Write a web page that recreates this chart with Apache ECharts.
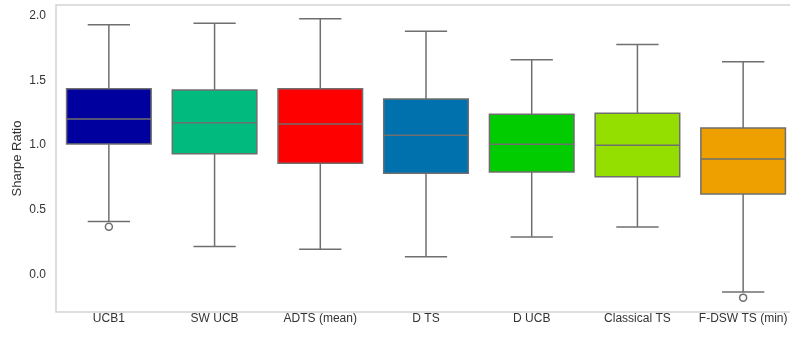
<!DOCTYPE html>
<html>
<head>
<meta charset="utf-8">
<script src="https://cdn.jsdelivr.net/npm/echarts@6/dist/echarts.min.js"></script>
<style>
  html, body { margin: 0; padding: 0; background: #fff; }
  #chart { width: 790px; height: 338px; }
</style>
</head>
<body>
<div id="chart"></div>
<script>
// Strategies on the x axis
const categories = ['UCB1', 'SW UCB', 'ADTS (mean)', 'D TS', 'D UCB', 'Classical TS', 'F-DSW TS (min)'];
// Box statistics per strategy
const whiskerLow  = [0.408, 0.215, 0.195, 0.137, 0.290, 0.367, -0.135];
const quartile1   = [1.008, 0.933, 0.859, 0.781, 0.792, 0.755, 0.622];
const medians     = [1.201, 1.172, 1.162, 1.075, 1.005, 0.998, 0.892];
const quartile3   = [1.435, 1.425, 1.435, 1.355, 1.237, 1.245, 1.131];
const whiskerHigh = [1.929, 1.940, 1.975, 1.878, 1.659, 1.775, 1.643];
// Outlying points: [strategy, value]
const outliers = [['UCB1', 0.369], ['F-DSW TS (min)', -0.179]];
// Y tick labels
const yTicks = [0.0, 0.5, 1.0, 1.5, 2.0];

const boxColors = ['#00009f', '#00bb7d', '#ff0000', '#0171ae', '#00cc00', '#95df00', '#eda000'];
const lineColor = '#6f6f6f';
const font = 'Liberation Sans, Arial, sans-serif';

const boxData = categories.map((c, i) => [i, whiskerLow[i], quartile1[i], medians[i], quartile3[i], whiskerHigh[i]]);

function renderBox(params, api) {
  const i = api.value(0);
  const band = api.size([1, 0])[0];
  const boxW = band * 0.8;
  const capW = boxW * 0.5;
  const pLow = api.coord([i, api.value(1)]);
  const pQ1 = api.coord([i, api.value(2)]);
  const pMed = api.coord([i, api.value(3)]);
  const pQ3 = api.coord([i, api.value(4)]);
  const pHigh = api.coord([i, api.value(5)]);
  const cx = pMed[0];
  const ls = { stroke: lineColor, lineWidth: 1.5, fill: null };
  return {
    type: 'group',
    children: [
      { type: 'line', shape: { x1: cx, y1: pQ3[1], x2: cx, y2: pHigh[1] }, style: ls },
      { type: 'line', shape: { x1: cx, y1: pQ1[1], x2: cx, y2: pLow[1] }, style: ls },
      { type: 'line', shape: { x1: cx - capW / 2, y1: pHigh[1], x2: cx + capW / 2, y2: pHigh[1] }, style: ls },
      { type: 'line', shape: { x1: cx - capW / 2, y1: pLow[1], x2: cx + capW / 2, y2: pLow[1] }, style: ls },
      { type: 'rect', shape: { x: cx - boxW / 2, y: pQ3[1], width: boxW, height: pQ1[1] - pQ3[1] },
        style: { fill: boxColors[i], stroke: lineColor, lineWidth: 1.5 } },
      { type: 'line', shape: { x1: cx - boxW / 2, y1: pMed[1], x2: cx + boxW / 2, y2: pMed[1] }, style: ls }
    ]
  };
}

const chart = echarts.init(document.getElementById('chart'), null, { renderer: 'canvas' });
chart.setOption({
  animation: false,
  backgroundColor: '#ffffff',
  grid: {
    left: 56, right: -6, top: 5, bottom: 26,
    outerBoundsMode: 'none', containLabel: false,
    show: true, borderColor: '#d4d4d4', borderWidth: 1.5, backgroundColor: 'transparent'
  },
  xAxis: {
    type: 'category',
    data: categories,
    axisLine: { show: false },
    axisTick: { show: false },
    axisLabel: { color: '#333', fontSize: 12, fontFamily: font, margin: 1, interval: 0 },
    splitLine: { show: false }
  },
  yAxis: {
    type: 'value',
    min: -0.29,
    max: 2.081,
    name: 'Sharpe Ratio',
    nameLocation: 'middle',
    nameGap: 32,
    nameMoveOverlap: false,
    nameTextStyle: { color: '#333', fontSize: 13, fontFamily: font },
    axisLine: { show: false },
    axisTick: { show: false },
    splitLine: { show: false },
    axisLabel: {
      color: '#333', fontSize: 12, fontFamily: font, margin: 10,
      customValues: yTicks,
      formatter: v => v.toFixed(1)
    }
  },
  series: [
    {
      type: 'custom',
      renderItem: renderBox,
      data: boxData,
      encode: { x: 0, y: [1, 2, 3, 4, 5] },
      z: 2
    },
    {
      type: 'scatter',
      data: outliers,
      symbol: 'circle',
      symbolSize: 7,
      clip: false,
      itemStyle: { color: '#ffffff', borderColor: lineColor, borderWidth: 1.5, opacity: 1 },
      z: 5
    }
  ]
});
</script>
</body>
</html>
